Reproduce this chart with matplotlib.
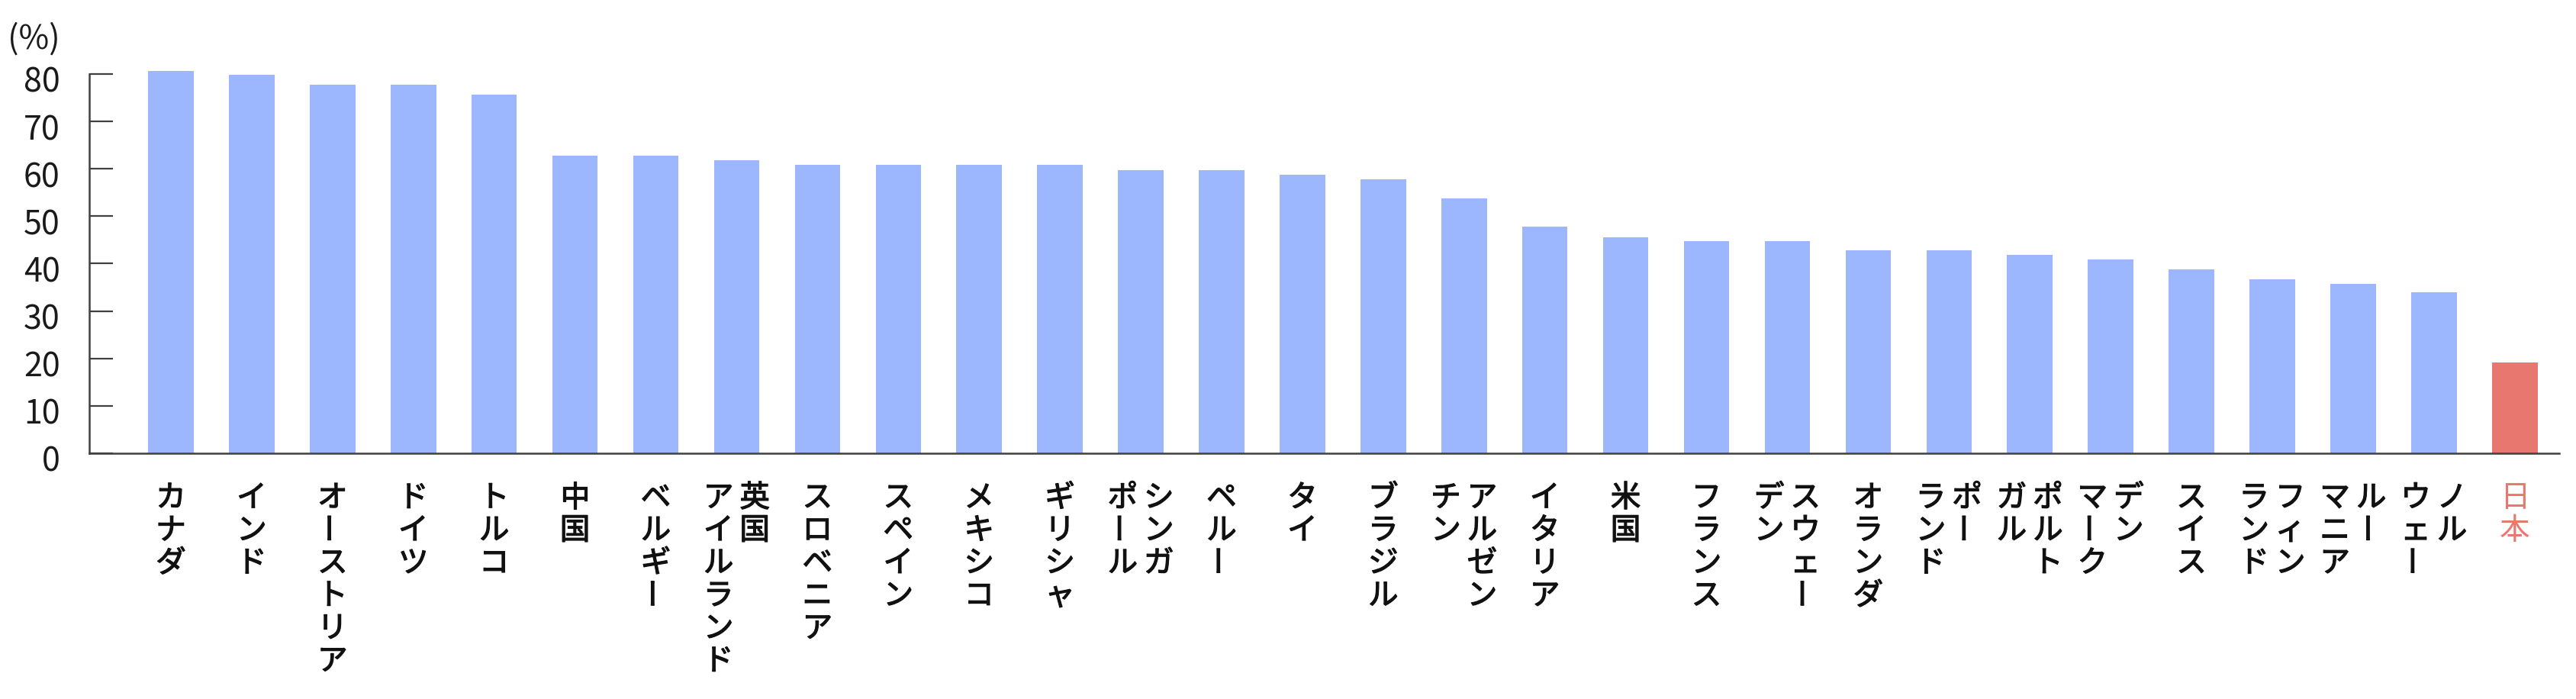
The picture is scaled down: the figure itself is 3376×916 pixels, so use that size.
import matplotlib
matplotlib.use("Agg")
import matplotlib.pyplot as plt
import matplotlib.patheffects as pe
from matplotlib.transforms import ScaledTranslation
import numpy as np

plt.rcParams['font.family'] = ['Noto Sans CJK JP', 'DejaVu Sans']

# ---- data ----
countries = ['カナダ', 'インド', 'オーストリア', 'ドイツ', 'トルコ', '中国', 'ベルギー',
             '英国アイルランド', 'スロベニア', 'スペイン', 'メキシコ', 'ギリシャ',
             'シンガポール', 'ペルー', 'タイ', 'ブラジル', 'アルゼンチン', 'イタリア',
             '米国', 'フランス', 'スウェーデン', 'オランダ', 'ポーランド', 'ポルトガル',
             'デンマーク', 'スイス', 'フィンランド', 'ルーマニア', 'ノルウェー', '日本']
# label columns (vertical writing, first column is rightmost)
label_columns = ['カナダ', 'インド', 'オーストリア', 'ドイツ', 'トルコ', '中国', 'ベルギー',
                 '英国\nアイルランド', 'スロベニア', 'スペイン', 'メキシコ', 'ギリシャ',
                 'シンガ\nポール', 'ペルー', 'タイ', 'ブラジル', 'アルゼン\nチン', 'イタリア',
                 '米国', 'フランス', 'スウェー\nデン', 'オランダ', 'ポー\nランド', 'ポルト\nガル',
                 'デン\nマーク', 'スイス', 'フィン\nランド', 'ルー\nマニア', 'ノル\nウェー', '日本']
values = [80.6, 79.8, 77.7, 77.7, 75.7, 62.7, 62.7, 61.8, 60.8, 60.8, 60.8, 60.8,
          59.7, 59.7, 58.8, 57.8, 53.7, 47.8, 45.6, 44.8, 44.8, 42.8, 42.8, 41.8,
          40.9, 38.8, 36.7, 35.8, 33.9, 19.2]
highlight = '日本'
yticks = [0, 10, 20, 30, 40, 50, 60, 70, 80]

BLUE = '#9CB7FE'
RED = '#E8786F'
AXC = '#404040'

W, H, DPI = 3376, 916, 100
fig = plt.figure(figsize=(W / DPI, H / DPI), dpi=DPI)
ax = fig.add_axes([117 / W, 322 / H, (3354 - 117) / W, (594 - 84.5) / H])

x = np.arange(len(countries))
colors = [RED if c == highlight else BLUE for c in countries]
ax.bar(x, values, width=0.562, color=colors, zorder=2)

ax.set_xlim(-1.01, 29.55)
ax.set_ylim(0, 82)
for s in ['top', 'right']:
    ax.spines[s].set_visible(False)
ax.spines['left'].set_bounds(0, 80)
for s in ['left', 'bottom']:
    ax.spines[s].set_color(AXC)
    ax.spines[s].set_linewidth(1.8)
    ax.spines[s].set_zorder(3)

ax.set_yticks(yticks)
ax.set_yticklabels([str(v) for v in yticks])
ax.tick_params(axis='y', direction='in', length=22, width=1.6, color=AXC,
               labelsize=31, pad=27.6, labelcolor='#1a1a1a')
ax.set_xticks([])
off = ScaledTranslation(0, -7 / DPI, fig.dpi_scale_trans)
for lab in ax.get_yticklabels():
    lab.set_transform(lab.get_transform() + off)

fig.text(10 / W, 1 - 30 / H, '(%)', fontsize=31, ha='left', va='top', color='#1a1a1a')

# vertical-writing category labels
PX = 72 / DPI  # points per pixel
row_pitch = 42.8
col_pitch = 47.5
first_base = 70
fs = 28.5
for i, lab in enumerate(label_columns):
    cols = lab.split('\n')
    n = len(cols)
    is_hl = countries[i] == highlight
    col = RED if is_hl else '#111111'
    effects = [] if is_hl else [pe.withStroke(linewidth=0.9, foreground=col)]
    for k, txt in enumerate(cols):
        dx = ((n - 1) / 2 - k) * col_pitch
        for r, ch in enumerate(txt):
            dy = -(first_base + r * row_pitch)
            if ch == 'ー':
                ax.annotate('ー', xy=(x[i], 0), xycoords='data',
                            xytext=(dx * PX, (dy + 15) * PX), textcoords='offset points',
                            ha='center', va='center', rotation=90, fontsize=fs,
                            color=col, annotation_clip=False, path_effects=effects)
            else:
                ax.annotate(ch, xy=(x[i], 0), xycoords='data',
                            xytext=(dx * PX, dy * PX), textcoords='offset points',
                            ha='center', va='baseline', fontsize=fs,
                            color=col, annotation_clip=False, path_effects=effects)

fig.savefig('out.png', dpi=DPI)
